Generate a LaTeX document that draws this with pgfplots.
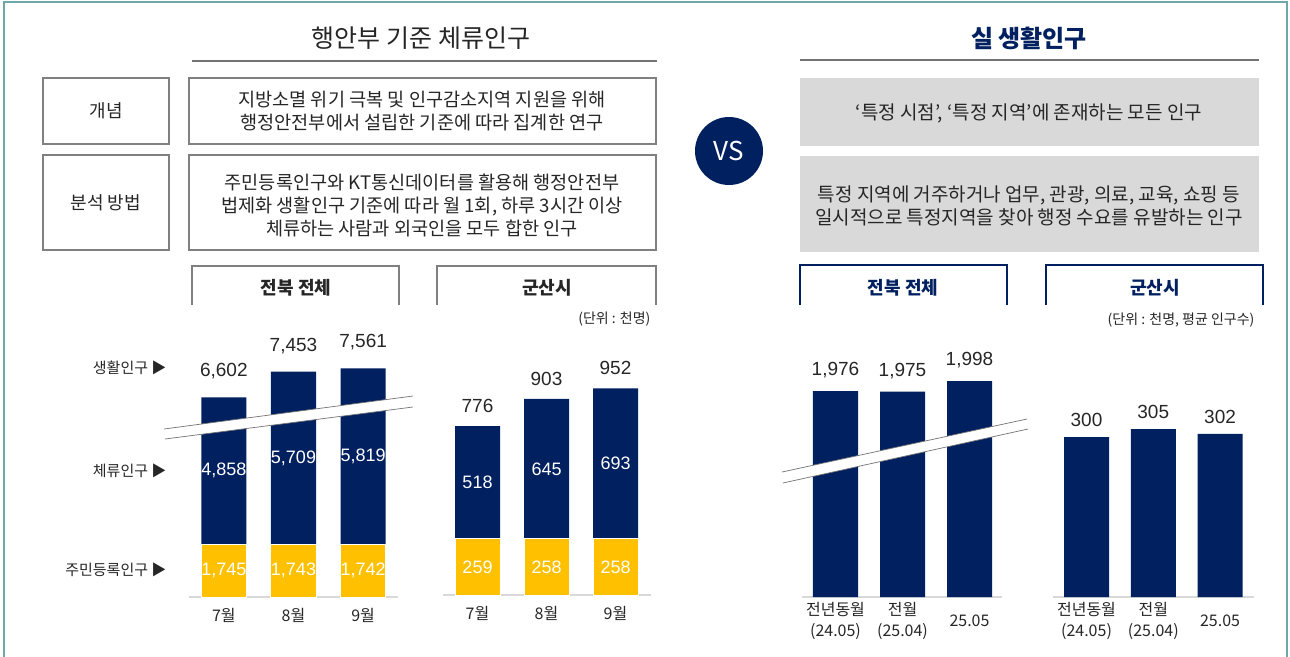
\documentclass[border=0pt]{standalone}
\usepackage{fontspec}
\setmainfont{Noto Sans CJK KR}
\newfontfamily\num{Liberation Sans}
\usepackage{pgfplots}
\pgfplotsset{compat=1.18}
\definecolor{navy}{RGB}{0,32,96}
\definecolor{gold}{RGB}{255,192,0}
\definecolor{framec}{RGB}{112,168,170}
\definecolor{bgray}{RGB}{128,128,128}
\definecolor{fgray}{RGB}{217,217,217}
\definecolor{txt}{RGB}{38,38,38}
\newcommand\fs[2]{\fontsize{#1}{#2}\selectfont}
\pgfplotsset{
  base/.style={scale only axis, anchor=south west, axis x line=bottom, axis y line=none,
    x axis line style={draw=black!15, line width=1.5pt, -},
    xtick=data, major tick length=0pt, ytick=\empty,
    x tick label style={font=\fs{16}{21}, text=txt, anchor=center, align=center}},
  toplab/.style={nodes near coords={\pgfmathprintnumber[assume math mode=true]{\pgfplotspointmeta}},
    nodes near coords style={anchor=center, font=\num\fs{19}{22}, text=txt, yshift=#1}},
  inlab/.style={point meta=\thisrow{y},
    nodes near coords={\pgfmathprintnumber[assume math mode=true]{\pgfplotspointmeta}},
    nodes near coords style={anchor=center, font=\num\fs{18}{21}, text=white}}
}
\begin{document}
\begin{tikzpicture}
\useasboundingbox (0pt,0pt) rectangle (1290pt,-656pt);
\begin{scope}[x=1pt,y=-1pt]
  \draw[framec, line width=2pt] (4,660) -- (4,2) -- (1287,2) -- (1287,660);
  % left header
  \node[font=\fs{25}{30}, text=txt] at (421,38) {행안부 기준 체류인구};
  \draw[black!55, line width=2pt] (192,61) -- (657,61);
  \draw[bgray, line width=1.5pt] (43,78) rectangle (169,144);
  \draw[bgray, line width=1.5pt] (189,78) rectangle (656,144);
  \draw[bgray, line width=1.5pt] (43,155) rectangle (169,250);
  \draw[bgray, line width=1.5pt] (189,155) rectangle (656,250);
  \node[font=\fs{18}{23}, text=txt] at (106,111) {개념};
  \node[font=\fs{18}{23}, text=txt] at (106,203) {분석 방법};
  \node[font=\fs{18.6}{23}, text=txt, align=center] at (422,111) {지방소멸 위기 극복 및 인구감소지역 지원을 위해\\행정안전부에서 설립한 기준에 따라 집계한 연구};
  \node[font=\fs{18.6}{23}, text=txt, align=center] at (422,205) {주민등록인구와 KT통신데이터를 활용해 행정안전부\\법제화 생활인구 기준에 따라 월 1회, 하루 3시간 이상\\체류하는 사람과 외국인을 모두 합한 인구};
  \draw[bgray, line width=1.5pt] (192,305) -- (192,266) -- (399,266) -- (399,305);
  \draw[bgray, line width=1.5pt] (437,305) -- (437,266) -- (656,266) -- (656,305);
  \node[font=\bfseries\fs{18}{20}, text=txt] at (296,288) {전북 전체};
  \node[font=\bfseries\fs{18}{20}, text=txt] at (547,288) {군산시};
  \node[font=\fs{14}{17}, text=txt, anchor=east] at (654,319) {(단위 : 천명)};
  \node[font=\fs{15}{18}, text=txt, anchor=east] at (170,368) {생활인구 ▶};
  \node[font=\fs{15}{18}, text=txt, anchor=east] at (170,471) {체류인구 ▶};
  \node[font=\fs{15}{18}, text=txt, anchor=east] at (170,570) {주민등록인구 ▶};
  % VS
  \fill[navy] (729,151) circle (34);
  \node[font=\fs{26}{30}, text=white] at (729,151) {VS};
  % right header
  \node[font=\bfseries\fs{24}{28}, text=navy] at (1029,38) {실 생활인구};
  \draw[black!55, line width=2pt] (800,60) -- (1259,60);
  \fill[fgray] (800,78) rectangle (1259,146);
  \fill[fgray] (800,156) rectangle (1259,252);
  \node[font=\fs{19}{23}, text=txt] at (1029,113) {‘특정 시점’, ‘특정 지역’에 존재하는 모든 인구};
  \node[font=\fs{19}{23}, text=txt, align=center] at (1029,206) {특정 지역에 거주하거나 업무, 관광, 의료, 교육, 쇼핑 등\\일시적으로 특정지역을 찾아 행정 수요를 유발하는 인구};
  \draw[navy, line width=1.5pt] (800,305) -- (800,265) -- (1007,265) -- (1007,305);
  \draw[navy, line width=1.5pt] (1046,305) -- (1046,265) -- (1263,265) -- (1263,305);
  \node[font=\bfseries\fs{18}{20}, text=navy] at (903,288) {전북 전체};
  \node[font=\bfseries\fs{18}{20}, text=navy] at (1155,288) {군산시};
  \node[font=\fs{14}{17}, text=txt, anchor=east] at (1258,320) {(단위 : 천명, 평균 인구수)};
\end{scope}

% Chart A: 전북 전체 (행안부)
\begin{axis}[base, at={(189pt,-597pt)}, width=209pt, height=272.25pt,
  xmin=-0.5, xmax=2.5, ymin=0, ymax=9000, ybar stacked, stacked ignores zero=false, bar width=0.647,
  xticklabels={7월,8월,9월}, x tick label style={yshift=-18pt}]
\addplot[fill=gold, draw=white, line width=1pt, inlab] table {
x y
0 1745
1 1743
2 1742
};
\addplot[fill=navy, draw=none, inlab] table {
x y
0 4858
1 5709
2 5819
};
\addplot[draw=none, fill=none, point meta=\thisrow{t}, toplab=26pt] table {
x y t
0 0 6602
1 0 7453
2 0 7561
};
\end{axis}

% Chart B: 군산시 (행안부)
\begin{axis}[base, at={(443pt,-595pt)}, width=208pt, height=282.5pt,
  xmin=-0.5, xmax=2.514, ymin=0, ymax=1300, ybar stacked, stacked ignores zero=false, bar width=0.652,
  xticklabels={7월,8월,9월}, x tick label style={yshift=-18pt}]
\addplot[fill=gold, draw=white, line width=1pt, inlab] table {
x y
0 259
1 258
2 258
};
\addplot[fill=navy, draw=none, inlab] table {
x y
0 518
1 645
2 693
};
\addplot[draw=none, fill=none, point meta=\thisrow{t}, toplab=20pt] table {
x y t
0 0 776
1 0 903
2 0 952
};
\end{axis}

% Chart C: 전북 전체 (실 생활인구)
\begin{axis}[base, at={(802pt,-597pt)}, width=200pt, height=271.3pt,
  xmin=-0.5, xmax=2.485, ymin=1523, ymax=2120, ybar, bar width=0.672,
  xticklabels={{전년동월\\(24.05)},{전월\\(25.04)},{25.05}}, x tick label style={yshift=-24pt}]
\addplot[fill=navy, draw=none, toplab=21pt] coordinates {(0,1976) (1,1975) (2,1998)};
\end{axis}

% Chart D: 군산시 (실 생활인구)
\begin{axis}[base, at={(1053pt,-597pt)}, width=201pt, height=272pt,
  xmin=-0.502, xmax=2.509, ymin=200, ymax=370, ybar, bar width=0.674,
  xticklabels={{전년동월\\(24.05)},{전월\\(25.04)},{25.05}}, x tick label style={yshift=-24pt}]
\addplot[fill=navy, draw=none, toplab=17pt] coordinates {(0,300) (1,305) (2,302)};
\end{axis}

\begin{scope}[x=1pt,y=-1pt]
  \fill[white] (164,429) -- (413,396) -- (413,407) -- (165,439) -- cycle;
  \draw[black!55, line width=0.7pt] (164,429) -- (413,396);
  \draw[black!55, line width=0.7pt] (165,439) -- (413,407);
  \fill[white] (782,472) -- (1027,419) -- (1028,429) -- (783,483) -- cycle;
  \draw[black!55, line width=0.7pt] (782,472) -- (1027,419);
  \draw[black!55, line width=0.7pt] (783,483) -- (1028,429);
\end{scope}
\end{tikzpicture}
\end{document}
